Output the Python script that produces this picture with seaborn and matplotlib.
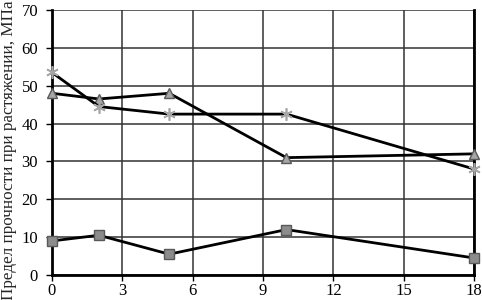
import pandas as pd
import matplotlib.pyplot as plt
import seaborn as sb

sb.set_style('white')
plt.rcParams['font.family'] = ['Liberation Serif', 'DejaVu Serif']

# time points and measured strength values
days = [0, 2, 5, 10, 18]
tri_vals = [48.0, 46.5, 48.0, 31.0, 32.0]
star_vals = [53.5, 44.5, 42.5, 42.5, 28.0]
sq_vals = [9.0, 10.5, 5.5, 12.0, 4.5]

x_ticks = [0, 3, 6, 9, 12, 15, 18]
y_ticks = [0, 10, 20, 30, 40, 50, 60, 70]

fig = plt.figure(figsize=(4.82, 3.0), dpi=100)
ax = fig.add_axes([52 / 482, 1 - 275 / 300, (474 - 52) / 482, (275 - 10) / 300])

series = [
    (tri_vals, '^', '#a6a6a6', 7),
    (star_vals, (6, 2, 0), '#a6a6a6', 9),
    (sq_vals, 's', '#8c8c8c', 7),
]
for vals, mk, col, ms in series:
    df = pd.DataFrame({'x': days, 'y': vals})
    star = mk == (6, 2, 0)
    sb.lineplot(data=df, x='x', y='y', ax=ax, color='black', linewidth=2,
                marker=mk, markersize=ms, markerfacecolor=col,
                markeredgecolor='#a6a6a6' if star else '#595959',
                markeredgewidth=1.2 if star else 1, zorder=3, clip_on=False)

ax.set_xlim(0, 18)
ax.set_ylim(0, 70)
ax.set_xticks(x_ticks)
ax.set_yticks(y_ticks)
ax.grid(True, color='#333333', linewidth=1.1)
ax.set_xlabel('')
ax.set_ylabel('')

for side in ['left', 'bottom', 'right']:
    ax.spines[side].set_visible(True)
    ax.spines[side].set_color('black')
    ax.spines[side].set_linewidth(2)
ax.spines['top'].set_visible(False)

ax.tick_params(axis='both', labelsize=12, direction='out', length=4,
               width=1, colors='black')
ax.tick_params(axis='x', bottom=True, pad=2)
ax.tick_params(axis='y', left=True, pad=6)

fig.text(9 / 482, 0.5, 'Предел прочности при растяжении, МПа',
         rotation=90, ha='center', va='center', fontsize=12.3)

fig.savefig('out.png', dpi=100)
